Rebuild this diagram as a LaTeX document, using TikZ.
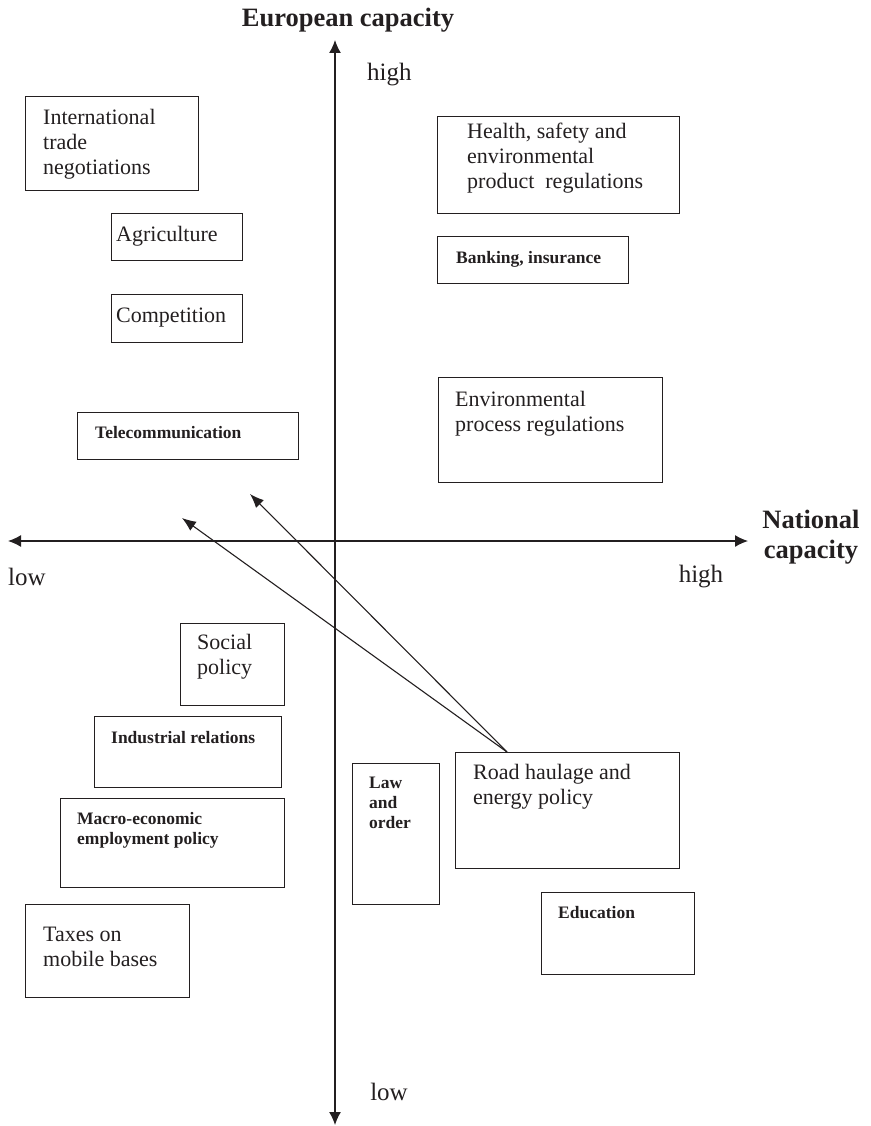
\documentclass[tikz,border=0pt]{standalone}
\usepackage{fontspec}
\setmainfont{Liberation Serif}
\usetikzlibrary{arrows.meta,calc}
\definecolor{ink}{RGB}{35,31,32}
\begin{document}
\begin{tikzpicture}[x=1pt,y=-1pt,
  box/.style={draw=ink, line width=1.2pt, inner sep=0pt, anchor=north west},
  txt/.style={inner sep=0pt, anchor=north west, align=left, text=ink, font=\fontsize{22}{25}\selectfont},
  btxt/.style={txt, font=\bfseries\fontsize{17.5}{20}\selectfont},
  axislbl/.style={inner sep=0pt, text=ink, font=\fontsize{25}{28}\selectfont},
  title/.style={inner sep=0pt, text=ink, align=center, font=\bfseries\fontsize{26.5}{30}\selectfont},
  axis/.style={draw=ink, line width=1.3pt, {Latex[length=13pt,width=12pt]}-{Latex[length=13pt,width=12pt]}},
  move/.style={draw=ink, line width=1.1pt, -{Latex[length=14pt,width=11pt]}}
]
\useasboundingbox (0,0) rectangle (870,1126);

% axes
\coordinate (ytop) at (335,40);
\coordinate (ybot) at (335,1125);
\coordinate (xleft) at (8,541);
\coordinate (xright) at (748,541);
\draw[axis] (ybot) -- (ytop);
\draw[axis] (xleft) -- (xright);

\node[title] (eurcap) at (348,20) {European capacity};
\node[title] (natcap) at (811,537) {National\\capacity};
\node[axislbl, anchor=west] (yhigh) at (367,75) {high};
\node[axislbl] (ylow) at (389,1092) {low};
\node[axislbl] (xlow) at (27,577) {low};
\node[axislbl] (xhigh) at (701,577) {high};

% boxes
\node[box, minimum width=173pt, minimum height=94pt] (itn) at (25,96) {};
\node[txt] (itnt) at (43,109) {International\\trade\\negotiations};

\node[box, minimum width=131pt, minimum height=47pt] (agr) at (111,213) {};
\node[txt] (agrt) at (116,226) {Agriculture};

\node[box, minimum width=131pt, minimum height=48pt] (comp) at (111,294) {};
\node[txt] (compt) at (116,308) {Competition};

\node[box, minimum width=221pt, minimum height=47pt] (tel) at (77,412) {};
\node[btxt] (telt) at (95,426) {Telecommunication};

\node[box, minimum width=242pt, minimum height=97pt] (hse) at (437,116) {};
\node[txt] (hset) at (467,123) {Health, safety and\\environmental\\product\ \ regulations};

\node[box, minimum width=191pt, minimum height=47pt] (bank) at (437,236) {};
\node[btxt] (bankt) at (456,251) {Banking, insurance};

\node[box, minimum width=224pt, minimum height=105pt] (env) at (438,377) {};
\node[txt] (envt) at (455,391) {Environmental\\process regulations};

\node[box, minimum width=104pt, minimum height=82pt] (soc) at (180,623) {};
\node[txt] (soct) at (197,634) {Social\\policy};

\node[box, minimum width=187pt, minimum height=71pt] (ind) at (94,716) {};
\node[btxt] (indt) at (111,731) {Industrial relations};

\node[box, minimum width=224pt, minimum height=89pt] (mac) at (60,798) {};
\node[btxt] (mact) at (77,812) {Macro-economic\\employment policy};

\node[box, minimum width=87pt, minimum height=141pt] (law) at (352,763) {};
\node[btxt] (lawt) at (369,777) {Law\\and\\order};

\node[box, minimum width=224pt, minimum height=116pt] (road) at (455,752) {};
\node[txt] (roadt) at (473,764) {Road haulage and\\energy policy};

\node[box, minimum width=153pt, minimum height=82pt] (edu) at (541,892) {};
\node[btxt] (edut) at (558,906) {Education};

\node[box, minimum width=164pt, minimum height=93pt] (tax) at (25,904) {};
\node[txt] (taxt) at (43,927) {Taxes on\\mobile bases};

% movement arrows
\coordinate (src) at ($(road.north west)+(52,0)$);
\coordinate (tipA) at (182,518);
\coordinate (tipB) at (250,494);
\draw[move] (src) -- (tipA);
\draw[move] (src) -- (tipB);
\end{tikzpicture}
\end{document}
